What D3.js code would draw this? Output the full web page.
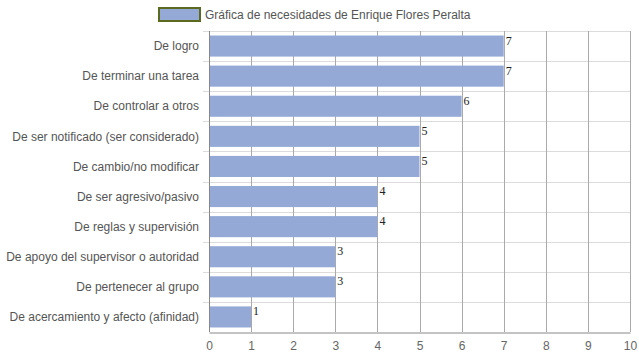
<!DOCTYPE html>
<html>
<head>
<meta charset="utf-8">
<script src="https://cdn.jsdelivr.net/npm/d3@7"></script>
<style>
  body { margin: 0; background: #fff; }
  svg { display: block; }
</style>
</head>
<body>
<div id="chart"></div>
<script>
// chart data
var categories = [
  "De logro",
  "De terminar una tarea",
  "De controlar a otros",
  "De ser notificado (ser considerado)",
  "De cambio/no modificar",
  "De ser agresivo/pasivo",
  "De reglas y supervisión",
  "De apoyo del supervisor o autoridad",
  "De pertenecer al grupo",
  "De acercamiento y afecto (afinidad)"
];
var values = [7, 7, 6, 5, 5, 4, 4, 3, 3, 1];
var xTicks = [0, 1, 2, 3, 4, 5, 6, 7, 8, 9, 10];
var seriesName = "Gráfica de necesidades de Enrique Flores Peralta";

var chartWidth = 639,
    chartHeight = 360,
    plotLeft = 209,
    plotRight = 630,
    plotTop = 31,
    plotBottom = 332;

var svg = d3.select("#chart")
            .append("svg")
            .attr("width", chartWidth)
            .attr("height", chartHeight);

var x = d3.scaleLinear()
          .domain([0, 10])
          .range([plotLeft, plotRight]);

var y = d3.scaleBand()
          .domain(categories)
          .range([plotTop, plotBottom])
          .paddingInner(0.3)
          .paddingOuter(0.15);

var band = d3.scaleBand()
             .domain(categories)
             .range([plotTop, plotBottom]);

// horizontal separators between categories
svg.selectAll(".hsep")
   .data(categories)
   .enter()
   .append("line")
   .attr("class", "hsep")
   .attr("x1", plotLeft - 6)
   .attr("x2", plotRight)
   .attr("y1", function(d) { return Math.round(band(d)) + 0.5; })
   .attr("y2", function(d) { return Math.round(band(d)) + 0.5; })
   .attr("stroke", "#dcdcdc")
   .attr("stroke-width", 1);

// vertical grid lines
svg.selectAll(".vgrid")
   .data(xTicks)
   .enter()
   .append("line")
   .attr("class", "vgrid")
   .attr("x1", function(d) { return Math.round(x(d)) + 0.5; })
   .attr("x2", function(d) { return Math.round(x(d)) + 0.5; })
   .attr("y1", plotTop)
   .attr("y2", plotBottom)
   .attr("stroke", function(d) { return d === 0 ? "#888" : "#aaa"; })
   .attr("stroke-width", 1);

// bars
svg.selectAll(".bar")
   .data(values)
   .enter()
   .append("rect")
   .attr("class", "bar")
   .attr("x", x(0) + 1)
   .attr("y", function(d, i) { return y(categories[i]); })
   .attr("width", function(d) { return x(d) - x(0) - 1; })
   .attr("height", y.bandwidth())
   .attr("fill", "#94a9d5");

// value labels
svg.selectAll(".val")
   .data(values)
   .enter()
   .append("text")
   .attr("class", "val")
   .attr("x", function(d) { return x(d) + 2; })
   .attr("y", function(d, i) { return y(categories[i]) + 9; })
   .attr("font-family", "'Liberation Serif', 'DejaVu Serif', serif")
   .attr("font-size", 12)
   .attr("fill", "#222")
   .text(function(d) { return d; });

// category labels
svg.selectAll(".cat")
   .data(categories)
   .enter()
   .append("text")
   .attr("class", "cat")
   .attr("x", plotLeft - 10)
   .attr("y", function(d) { return band(d) + band.bandwidth() / 2; })
   .attr("dy", "0.35em")
   .attr("text-anchor", "end")
   .attr("font-family", "'Liberation Sans', Arial, sans-serif")
   .attr("font-size", 12)
   .attr("fill", "#555")
   .text(function(d) { return d; });

// bottom axis
var xAxis = d3.axisBottom(x)
              .tickValues(xTicks)
              .tickSize(0)
              .tickPadding(9);

var axisG = svg.append("g")
               .attr("transform", "translate(0," + (plotBottom + 0.5) + ")")
               .call(xAxis);
axisG.select(".domain").attr("stroke", "#888");
axisG.selectAll("text")
     .attr("font-family", "'Liberation Sans', Arial, sans-serif")
     .attr("font-size", 12)
     .attr("fill", "#666");

// legend
svg.append("rect")
   .attr("x", 159)
   .attr("y", 8)
   .attr("width", 41)
   .attr("height", 13)
   .attr("fill", "#94a9d5")
   .attr("stroke", "#5b6a1e")
   .attr("stroke-width", 2);

svg.append("text")
   .attr("x", 205)
   .attr("y", 15)
   .attr("dy", "0.35em")
   .attr("font-family", "'Liberation Sans', Arial, sans-serif")
   .attr("font-size", 12)
   .attr("fill", "#555")
   .text(seriesName);
</script>
</body>
</html>
